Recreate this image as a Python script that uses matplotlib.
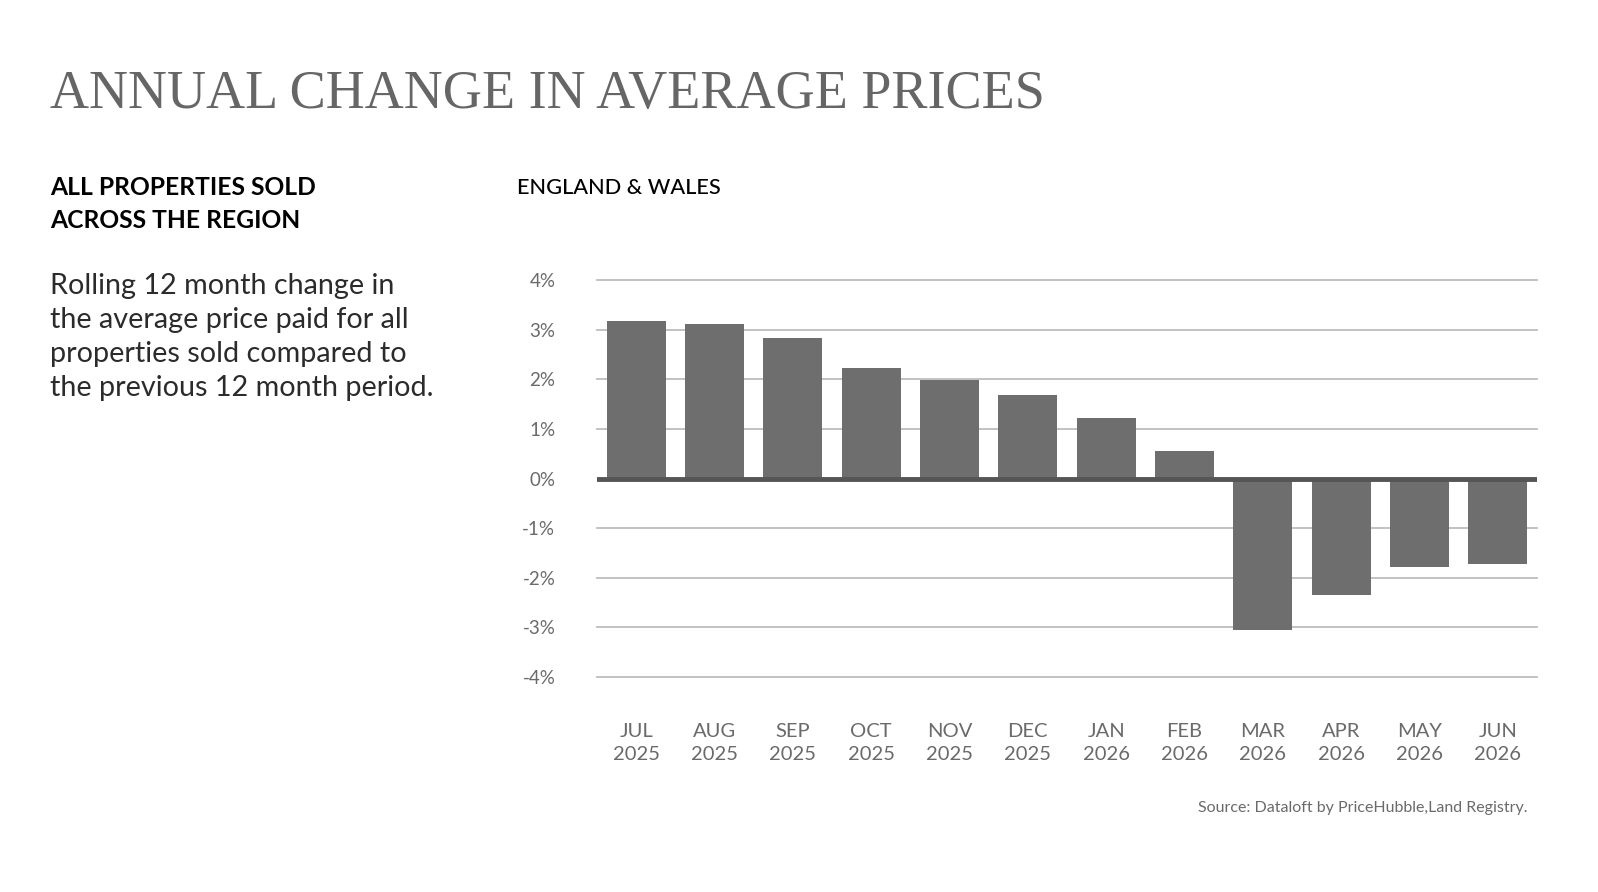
import numpy as np
import matplotlib
matplotlib.use("Agg")
import matplotlib.pyplot as plt

months = ['JUL', 'AUG', 'SEP', 'OCT', 'NOV', 'DEC', 'JAN', 'FEB', 'MAR', 'APR', 'MAY', 'JUN']
years = ['2025'] * 6 + ['2026'] * 6
change = [3.18, 3.11, 2.83, 2.22, 1.99, 1.68, 1.21, 0.55, -3.06, -2.35, -1.78, -1.73]
yticks = [4, 3, 2, 1, 0, -1, -2, -3, -4]

bar_col = '#6e6e6e'
txt_gray = '#6a6a6a'

plt.rcParams['font.family'] = ['Lato', 'DejaVu Sans']

fig = plt.figure(figsize=(15.98, 8.92), dpi=100)
fig.patch.set_facecolor('white')

# headings
fig.text(50 / 1598, 1 - 108 / 892, 'ANNUAL CHANGE IN AVERAGE PRICES',
         family=['Liberation Serif'], fontsize=39, fontweight='normal',
         color='#666666', va='baseline', ha='left')
fig.text(50 / 1598, 1 - 204 / 892, 'ALL PROPERTIES SOLD\nACROSS THE REGION',
         fontsize=17.7, fontweight='bold', color='black', va='center',
         ha='left', linespacing=1.5)
fig.text(50 / 1598, 1 - 337 / 892,
         'Rolling 12 month change in\nthe average price paid for all\n'
         'properties sold compared to\nthe previous 12 month period.',
         fontsize=20.7, fontweight='normal', color='#2b2b2b', va='center',
         ha='left', linespacing=1.38)
fig.text(517 / 1598, 1 - 188 / 892, 'ENGLAND & WALES', fontsize=15.7,
         fontweight='medium', color='black', va='center', ha='left')
fig.text(1527 / 1598, 1 - 808 / 892,
         'Source: Dataloft by PriceHubble,Land Registry.',
         fontsize=11.5, color=txt_gray, va='center', ha='right')

# chart
ax = fig.add_axes([597 / 1598, 215 / 892, 940 / 1598, 397 / 892])
x = np.arange(len(months))
for v in yticks:
    if v != 0:
        ax.axhline(v, color='#bdbdbd', lw=1.3, zorder=0, clip_on=False)
ax.bar(x, change, width=0.75, color=bar_col, zorder=2)
ax.axhline(0, color='#555555', lw=3.5, zorder=3)

ax.set_xlim(-0.5, len(months) - 0.5)
ax.set_ylim(-4, 4)
ax.set_yticks(yticks)
ax.set_yticklabels(['%d%%' % v for v in yticks])
ax.set_xticks(x)
ax.set_xticklabels([m + '\n' + y for m, y in zip(months, years)],
                   linespacing=1.45)
ax.tick_params(axis='y', length=0, pad=30, labelsize=13.5, labelcolor=txt_gray)
ax.tick_params(axis='x', length=0, pad=33, labelsize=14.5, labelcolor=txt_gray)
for s in ax.spines.values():
    s.set_visible(False)
ax.set_facecolor('none')

fig.savefig('out.png', dpi=100, facecolor='white')
